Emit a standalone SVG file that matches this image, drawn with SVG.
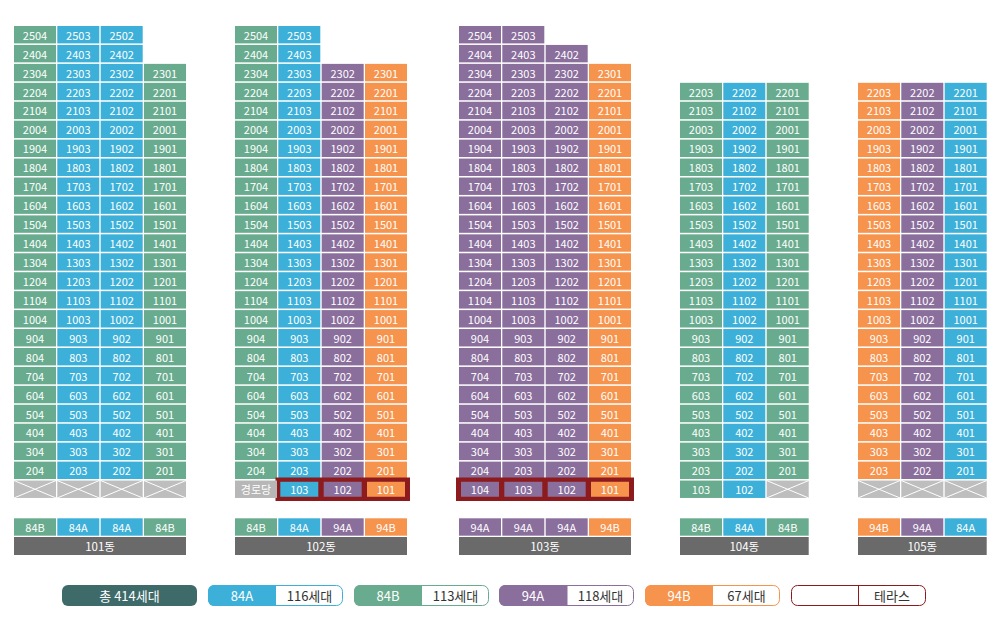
<svg xmlns="http://www.w3.org/2000/svg" width="1000" height="633" viewBox="0 0 1000 633">
<style>
.g,.b,.p,.o,.x,.s{y:-8.7px;width:42px;height:17.4px}
.g{fill:#69ab8e}.b{fill:#3cb0d8}.p{fill:#8a6e9c}.o{fill:#f6934c}.x{fill:#bebebe}.s{fill:#b7b7b7}
rect.in{y:-7.5px;width:38px;height:15px}
.xl{stroke:#fff;stroke-width:1;fill:none}
.frame{fill:#8d1a1c}
.bar{fill:#6a6a6a}
.bld text{fill:#fff;font-family:"Noto Sans CJK KR",sans-serif;font-size:11px;text-anchor:middle;dominant-baseline:central}
.bld text.bt{font-size:11.5px}
.lg text{font-family:"Noto Sans CJK KR",sans-serif;font-size:13px;text-anchor:middle;dominant-baseline:central;fill:#333}
.lg text.w{fill:#fff}
</style>
<g id="connectors"/>

<g id="b101" class="bld" transform="translate(14,0)">
<g transform="translate(0,34.7)"><rect class="g"/><text x="21">2504</text><rect class="b" x="43.3"/><text x="64.3">2503</text><rect class="b" x="86.7"/><text x="107.7">2502</text></g>
<g transform="translate(0,53.64)"><rect class="g"/><text x="21">2404</text><rect class="b" x="43.3"/><text x="64.3">2403</text><rect class="b" x="86.7"/><text x="107.7">2402</text></g>
<g transform="translate(0,72.58)"><rect class="g"/><text x="21">2304</text><rect class="b" x="43.3"/><text x="64.3">2303</text><rect class="b" x="86.7"/><text x="107.7">2302</text><rect class="g" x="130"/><text x="151">2301</text></g>
<g transform="translate(0,91.52)"><rect class="g"/><text x="21">2204</text><rect class="b" x="43.3"/><text x="64.3">2203</text><rect class="b" x="86.7"/><text x="107.7">2202</text><rect class="g" x="130"/><text x="151">2201</text></g>
<g transform="translate(0,110.46)"><rect class="g"/><text x="21">2104</text><rect class="b" x="43.3"/><text x="64.3">2103</text><rect class="b" x="86.7"/><text x="107.7">2102</text><rect class="g" x="130"/><text x="151">2101</text></g>
<g transform="translate(0,129.4)"><rect class="g"/><text x="21">2004</text><rect class="b" x="43.3"/><text x="64.3">2003</text><rect class="b" x="86.7"/><text x="107.7">2002</text><rect class="g" x="130"/><text x="151">2001</text></g>
<g transform="translate(0,148.34)"><rect class="g"/><text x="21">1904</text><rect class="b" x="43.3"/><text x="64.3">1903</text><rect class="b" x="86.7"/><text x="107.7">1902</text><rect class="g" x="130"/><text x="151">1901</text></g>
<g transform="translate(0,167.28)"><rect class="g"/><text x="21">1804</text><rect class="b" x="43.3"/><text x="64.3">1803</text><rect class="b" x="86.7"/><text x="107.7">1802</text><rect class="g" x="130"/><text x="151">1801</text></g>
<g transform="translate(0,186.22)"><rect class="g"/><text x="21">1704</text><rect class="b" x="43.3"/><text x="64.3">1703</text><rect class="b" x="86.7"/><text x="107.7">1702</text><rect class="g" x="130"/><text x="151">1701</text></g>
<g transform="translate(0,205.16)"><rect class="g"/><text x="21">1604</text><rect class="b" x="43.3"/><text x="64.3">1603</text><rect class="b" x="86.7"/><text x="107.7">1602</text><rect class="g" x="130"/><text x="151">1601</text></g>
<g transform="translate(0,224.1)"><rect class="g"/><text x="21">1504</text><rect class="b" x="43.3"/><text x="64.3">1503</text><rect class="b" x="86.7"/><text x="107.7">1502</text><rect class="g" x="130"/><text x="151">1501</text></g>
<g transform="translate(0,243.04)"><rect class="g"/><text x="21">1404</text><rect class="b" x="43.3"/><text x="64.3">1403</text><rect class="b" x="86.7"/><text x="107.7">1402</text><rect class="g" x="130"/><text x="151">1401</text></g>
<g transform="translate(0,261.98)"><rect class="g"/><text x="21">1304</text><rect class="b" x="43.3"/><text x="64.3">1303</text><rect class="b" x="86.7"/><text x="107.7">1302</text><rect class="g" x="130"/><text x="151">1301</text></g>
<g transform="translate(0,280.92)"><rect class="g"/><text x="21">1204</text><rect class="b" x="43.3"/><text x="64.3">1203</text><rect class="b" x="86.7"/><text x="107.7">1202</text><rect class="g" x="130"/><text x="151">1201</text></g>
<g transform="translate(0,299.86)"><rect class="g"/><text x="21">1104</text><rect class="b" x="43.3"/><text x="64.3">1103</text><rect class="b" x="86.7"/><text x="107.7">1102</text><rect class="g" x="130"/><text x="151">1101</text></g>
<g transform="translate(0,318.8)"><rect class="g"/><text x="21">1004</text><rect class="b" x="43.3"/><text x="64.3">1003</text><rect class="b" x="86.7"/><text x="107.7">1002</text><rect class="g" x="130"/><text x="151">1001</text></g>
<g transform="translate(0,337.74)"><rect class="g"/><text x="21">904</text><rect class="b" x="43.3"/><text x="64.3">903</text><rect class="b" x="86.7"/><text x="107.7">902</text><rect class="g" x="130"/><text x="151">901</text></g>
<g transform="translate(0,356.68)"><rect class="g"/><text x="21">804</text><rect class="b" x="43.3"/><text x="64.3">803</text><rect class="b" x="86.7"/><text x="107.7">802</text><rect class="g" x="130"/><text x="151">801</text></g>
<g transform="translate(0,375.62)"><rect class="g"/><text x="21">704</text><rect class="b" x="43.3"/><text x="64.3">703</text><rect class="b" x="86.7"/><text x="107.7">702</text><rect class="g" x="130"/><text x="151">701</text></g>
<g transform="translate(0,394.56)"><rect class="g"/><text x="21">604</text><rect class="b" x="43.3"/><text x="64.3">603</text><rect class="b" x="86.7"/><text x="107.7">602</text><rect class="g" x="130"/><text x="151">601</text></g>
<g transform="translate(0,413.5)"><rect class="g"/><text x="21">504</text><rect class="b" x="43.3"/><text x="64.3">503</text><rect class="b" x="86.7"/><text x="107.7">502</text><rect class="g" x="130"/><text x="151">501</text></g>
<g transform="translate(0,432.44)"><rect class="g"/><text x="21">404</text><rect class="b" x="43.3"/><text x="64.3">403</text><rect class="b" x="86.7"/><text x="107.7">402</text><rect class="g" x="130"/><text x="151">401</text></g>
<g transform="translate(0,451.38)"><rect class="g"/><text x="21">304</text><rect class="b" x="43.3"/><text x="64.3">303</text><rect class="b" x="86.7"/><text x="107.7">302</text><rect class="g" x="130"/><text x="151">301</text></g>
<g transform="translate(0,470.32)"><rect class="g"/><text x="21">204</text><rect class="b" x="43.3"/><text x="64.3">203</text><rect class="b" x="86.7"/><text x="107.7">202</text><rect class="g" x="130"/><text x="151">201</text></g>
<g transform="translate(0,489.26)"><rect class="x"/><path class="xl" d="M0,-8.7L42,8.7M0,8.7L42,-8.7"/><rect class="x" x="43.3"/><path class="xl" d="M43.3,-8.7L85.3,8.7M43.3,8.7L85.3,-8.7"/><rect class="x" x="86.7"/><path class="xl" d="M86.7,-8.7L128.7,8.7M86.7,8.7L128.7,-8.7"/><rect class="x" x="130"/><path class="xl" d="M130,-8.7L172,8.7M130,8.7L172,-8.7"/></g>
<g transform="translate(0,527)"><rect class="g"/><text x="21">84B</text><rect class="b" x="43.3"/><text x="64.3">84A</text><rect class="b" x="86.7"/><text x="107.7">84A</text><rect class="g" x="130"/><text x="151">84B</text></g>
<rect class="bar" x="0" y="537" width="172" height="18"/><text class="bt" x="86" y="546">101동</text>
</g>

<g id="b102" class="bld" transform="translate(235,0)">
<g transform="translate(0,34.7)"><rect class="g"/><text x="21">2504</text><rect class="b" x="43.3"/><text x="64.3">2503</text></g>
<g transform="translate(0,53.64)"><rect class="g"/><text x="21">2404</text><rect class="b" x="43.3"/><text x="64.3">2403</text></g>
<g transform="translate(0,72.58)"><rect class="g"/><text x="21">2304</text><rect class="b" x="43.3"/><text x="64.3">2303</text><rect class="p" x="86.7"/><text x="107.7">2302</text><rect class="o" x="130"/><text x="151">2301</text></g>
<g transform="translate(0,91.52)"><rect class="g"/><text x="21">2204</text><rect class="b" x="43.3"/><text x="64.3">2203</text><rect class="p" x="86.7"/><text x="107.7">2202</text><rect class="o" x="130"/><text x="151">2201</text></g>
<g transform="translate(0,110.46)"><rect class="g"/><text x="21">2104</text><rect class="b" x="43.3"/><text x="64.3">2103</text><rect class="p" x="86.7"/><text x="107.7">2102</text><rect class="o" x="130"/><text x="151">2101</text></g>
<g transform="translate(0,129.4)"><rect class="g"/><text x="21">2004</text><rect class="b" x="43.3"/><text x="64.3">2003</text><rect class="p" x="86.7"/><text x="107.7">2002</text><rect class="o" x="130"/><text x="151">2001</text></g>
<g transform="translate(0,148.34)"><rect class="g"/><text x="21">1904</text><rect class="b" x="43.3"/><text x="64.3">1903</text><rect class="p" x="86.7"/><text x="107.7">1902</text><rect class="o" x="130"/><text x="151">1901</text></g>
<g transform="translate(0,167.28)"><rect class="g"/><text x="21">1804</text><rect class="b" x="43.3"/><text x="64.3">1803</text><rect class="p" x="86.7"/><text x="107.7">1802</text><rect class="o" x="130"/><text x="151">1801</text></g>
<g transform="translate(0,186.22)"><rect class="g"/><text x="21">1704</text><rect class="b" x="43.3"/><text x="64.3">1703</text><rect class="p" x="86.7"/><text x="107.7">1702</text><rect class="o" x="130"/><text x="151">1701</text></g>
<g transform="translate(0,205.16)"><rect class="g"/><text x="21">1604</text><rect class="b" x="43.3"/><text x="64.3">1603</text><rect class="p" x="86.7"/><text x="107.7">1602</text><rect class="o" x="130"/><text x="151">1601</text></g>
<g transform="translate(0,224.1)"><rect class="g"/><text x="21">1504</text><rect class="b" x="43.3"/><text x="64.3">1503</text><rect class="p" x="86.7"/><text x="107.7">1502</text><rect class="o" x="130"/><text x="151">1501</text></g>
<g transform="translate(0,243.04)"><rect class="g"/><text x="21">1404</text><rect class="b" x="43.3"/><text x="64.3">1403</text><rect class="p" x="86.7"/><text x="107.7">1402</text><rect class="o" x="130"/><text x="151">1401</text></g>
<g transform="translate(0,261.98)"><rect class="g"/><text x="21">1304</text><rect class="b" x="43.3"/><text x="64.3">1303</text><rect class="p" x="86.7"/><text x="107.7">1302</text><rect class="o" x="130"/><text x="151">1301</text></g>
<g transform="translate(0,280.92)"><rect class="g"/><text x="21">1204</text><rect class="b" x="43.3"/><text x="64.3">1203</text><rect class="p" x="86.7"/><text x="107.7">1202</text><rect class="o" x="130"/><text x="151">1201</text></g>
<g transform="translate(0,299.86)"><rect class="g"/><text x="21">1104</text><rect class="b" x="43.3"/><text x="64.3">1103</text><rect class="p" x="86.7"/><text x="107.7">1102</text><rect class="o" x="130"/><text x="151">1101</text></g>
<g transform="translate(0,318.8)"><rect class="g"/><text x="21">1004</text><rect class="b" x="43.3"/><text x="64.3">1003</text><rect class="p" x="86.7"/><text x="107.7">1002</text><rect class="o" x="130"/><text x="151">1001</text></g>
<g transform="translate(0,337.74)"><rect class="g"/><text x="21">904</text><rect class="b" x="43.3"/><text x="64.3">903</text><rect class="p" x="86.7"/><text x="107.7">902</text><rect class="o" x="130"/><text x="151">901</text></g>
<g transform="translate(0,356.68)"><rect class="g"/><text x="21">804</text><rect class="b" x="43.3"/><text x="64.3">803</text><rect class="p" x="86.7"/><text x="107.7">802</text><rect class="o" x="130"/><text x="151">801</text></g>
<g transform="translate(0,375.62)"><rect class="g"/><text x="21">704</text><rect class="b" x="43.3"/><text x="64.3">703</text><rect class="p" x="86.7"/><text x="107.7">702</text><rect class="o" x="130"/><text x="151">701</text></g>
<g transform="translate(0,394.56)"><rect class="g"/><text x="21">604</text><rect class="b" x="43.3"/><text x="64.3">603</text><rect class="p" x="86.7"/><text x="107.7">602</text><rect class="o" x="130"/><text x="151">601</text></g>
<g transform="translate(0,413.5)"><rect class="g"/><text x="21">504</text><rect class="b" x="43.3"/><text x="64.3">503</text><rect class="p" x="86.7"/><text x="107.7">502</text><rect class="o" x="130"/><text x="151">501</text></g>
<g transform="translate(0,432.44)"><rect class="g"/><text x="21">404</text><rect class="b" x="43.3"/><text x="64.3">403</text><rect class="p" x="86.7"/><text x="107.7">402</text><rect class="o" x="130"/><text x="151">401</text></g>
<g transform="translate(0,451.38)"><rect class="g"/><text x="21">304</text><rect class="b" x="43.3"/><text x="64.3">303</text><rect class="p" x="86.7"/><text x="107.7">302</text><rect class="o" x="130"/><text x="151">301</text></g>
<g transform="translate(0,470.32)"><rect class="g"/><text x="21">204</text><rect class="b" x="43.3"/><text x="64.3">203</text><rect class="p" x="86.7"/><text x="107.7">202</text><rect class="o" x="130"/><text x="151">201</text></g>
<rect class="frame" x="40.5" y="477.5" width="134.5" height="23.5"/>
<g transform="translate(0,489.26)"><rect class="s"/><text x="21">경로당</text><rect class="b in" x="45.3"/><text x="64.3">103</text><rect class="p in" x="88.7"/><text x="107.7">102</text><rect class="o in" x="132"/><text x="151">101</text></g>
<g transform="translate(0,527)"><rect class="g"/><text x="21">84B</text><rect class="b" x="43.3"/><text x="64.3">84A</text><rect class="p" x="86.7"/><text x="107.7">94A</text><rect class="o" x="130"/><text x="151">94B</text></g>
<rect class="bar" x="0" y="537" width="172" height="18"/><text class="bt" x="86" y="546">102동</text>
</g>

<g id="b103" class="bld" transform="translate(459,0)">
<g transform="translate(0,34.7)"><rect class="p"/><text x="21">2504</text><rect class="p" x="43.3"/><text x="64.3">2503</text></g>
<g transform="translate(0,53.64)"><rect class="p"/><text x="21">2404</text><rect class="p" x="43.3"/><text x="64.3">2403</text><rect class="p" x="86.7"/><text x="107.7">2402</text></g>
<g transform="translate(0,72.58)"><rect class="p"/><text x="21">2304</text><rect class="p" x="43.3"/><text x="64.3">2303</text><rect class="p" x="86.7"/><text x="107.7">2302</text><rect class="o" x="130"/><text x="151">2301</text></g>
<g transform="translate(0,91.52)"><rect class="p"/><text x="21">2204</text><rect class="p" x="43.3"/><text x="64.3">2203</text><rect class="p" x="86.7"/><text x="107.7">2202</text><rect class="o" x="130"/><text x="151">2201</text></g>
<g transform="translate(0,110.46)"><rect class="p"/><text x="21">2104</text><rect class="p" x="43.3"/><text x="64.3">2103</text><rect class="p" x="86.7"/><text x="107.7">2102</text><rect class="o" x="130"/><text x="151">2101</text></g>
<g transform="translate(0,129.4)"><rect class="p"/><text x="21">2004</text><rect class="p" x="43.3"/><text x="64.3">2003</text><rect class="p" x="86.7"/><text x="107.7">2002</text><rect class="o" x="130"/><text x="151">2001</text></g>
<g transform="translate(0,148.34)"><rect class="p"/><text x="21">1904</text><rect class="p" x="43.3"/><text x="64.3">1903</text><rect class="p" x="86.7"/><text x="107.7">1902</text><rect class="o" x="130"/><text x="151">1901</text></g>
<g transform="translate(0,167.28)"><rect class="p"/><text x="21">1804</text><rect class="p" x="43.3"/><text x="64.3">1803</text><rect class="p" x="86.7"/><text x="107.7">1802</text><rect class="o" x="130"/><text x="151">1801</text></g>
<g transform="translate(0,186.22)"><rect class="p"/><text x="21">1704</text><rect class="p" x="43.3"/><text x="64.3">1703</text><rect class="p" x="86.7"/><text x="107.7">1702</text><rect class="o" x="130"/><text x="151">1701</text></g>
<g transform="translate(0,205.16)"><rect class="p"/><text x="21">1604</text><rect class="p" x="43.3"/><text x="64.3">1603</text><rect class="p" x="86.7"/><text x="107.7">1602</text><rect class="o" x="130"/><text x="151">1601</text></g>
<g transform="translate(0,224.1)"><rect class="p"/><text x="21">1504</text><rect class="p" x="43.3"/><text x="64.3">1503</text><rect class="p" x="86.7"/><text x="107.7">1502</text><rect class="o" x="130"/><text x="151">1501</text></g>
<g transform="translate(0,243.04)"><rect class="p"/><text x="21">1404</text><rect class="p" x="43.3"/><text x="64.3">1403</text><rect class="p" x="86.7"/><text x="107.7">1402</text><rect class="o" x="130"/><text x="151">1401</text></g>
<g transform="translate(0,261.98)"><rect class="p"/><text x="21">1304</text><rect class="p" x="43.3"/><text x="64.3">1303</text><rect class="p" x="86.7"/><text x="107.7">1302</text><rect class="o" x="130"/><text x="151">1301</text></g>
<g transform="translate(0,280.92)"><rect class="p"/><text x="21">1204</text><rect class="p" x="43.3"/><text x="64.3">1203</text><rect class="p" x="86.7"/><text x="107.7">1202</text><rect class="o" x="130"/><text x="151">1201</text></g>
<g transform="translate(0,299.86)"><rect class="p"/><text x="21">1104</text><rect class="p" x="43.3"/><text x="64.3">1103</text><rect class="p" x="86.7"/><text x="107.7">1102</text><rect class="o" x="130"/><text x="151">1101</text></g>
<g transform="translate(0,318.8)"><rect class="p"/><text x="21">1004</text><rect class="p" x="43.3"/><text x="64.3">1003</text><rect class="p" x="86.7"/><text x="107.7">1002</text><rect class="o" x="130"/><text x="151">1001</text></g>
<g transform="translate(0,337.74)"><rect class="p"/><text x="21">904</text><rect class="p" x="43.3"/><text x="64.3">903</text><rect class="p" x="86.7"/><text x="107.7">902</text><rect class="o" x="130"/><text x="151">901</text></g>
<g transform="translate(0,356.68)"><rect class="p"/><text x="21">804</text><rect class="p" x="43.3"/><text x="64.3">803</text><rect class="p" x="86.7"/><text x="107.7">802</text><rect class="o" x="130"/><text x="151">801</text></g>
<g transform="translate(0,375.62)"><rect class="p"/><text x="21">704</text><rect class="p" x="43.3"/><text x="64.3">703</text><rect class="p" x="86.7"/><text x="107.7">702</text><rect class="o" x="130"/><text x="151">701</text></g>
<g transform="translate(0,394.56)"><rect class="p"/><text x="21">604</text><rect class="p" x="43.3"/><text x="64.3">603</text><rect class="p" x="86.7"/><text x="107.7">602</text><rect class="o" x="130"/><text x="151">601</text></g>
<g transform="translate(0,413.5)"><rect class="p"/><text x="21">504</text><rect class="p" x="43.3"/><text x="64.3">503</text><rect class="p" x="86.7"/><text x="107.7">502</text><rect class="o" x="130"/><text x="151">501</text></g>
<g transform="translate(0,432.44)"><rect class="p"/><text x="21">404</text><rect class="p" x="43.3"/><text x="64.3">403</text><rect class="p" x="86.7"/><text x="107.7">402</text><rect class="o" x="130"/><text x="151">401</text></g>
<g transform="translate(0,451.38)"><rect class="p"/><text x="21">304</text><rect class="p" x="43.3"/><text x="64.3">303</text><rect class="p" x="86.7"/><text x="107.7">302</text><rect class="o" x="130"/><text x="151">301</text></g>
<g transform="translate(0,470.32)"><rect class="p"/><text x="21">204</text><rect class="p" x="43.3"/><text x="64.3">203</text><rect class="p" x="86.7"/><text x="107.7">202</text><rect class="o" x="130"/><text x="151">201</text></g>
<rect class="frame" x="-3" y="477.5" width="178" height="23.5"/>
<g transform="translate(0,489.26)"><rect class="p in" x="2"/><text x="21">104</text><rect class="p in" x="45.3"/><text x="64.3">103</text><rect class="p in" x="88.7"/><text x="107.7">102</text><rect class="o in" x="132"/><text x="151">101</text></g>
<g transform="translate(0,527)"><rect class="p"/><text x="21">94A</text><rect class="p" x="43.3"/><text x="64.3">94A</text><rect class="p" x="86.7"/><text x="107.7">94A</text><rect class="o" x="130"/><text x="151">94B</text></g>
<rect class="bar" x="0" y="537" width="172" height="18"/><text class="bt" x="86" y="546">103동</text>
</g>

<g id="b104" class="bld" transform="translate(680,0)">
<g transform="translate(0,91.52)"><rect class="g"/><text x="21">2203</text><rect class="b" x="43.3"/><text x="64.3">2202</text><rect class="g" x="86.7"/><text x="107.7">2201</text></g>
<g transform="translate(0,110.46)"><rect class="g"/><text x="21">2103</text><rect class="b" x="43.3"/><text x="64.3">2102</text><rect class="g" x="86.7"/><text x="107.7">2101</text></g>
<g transform="translate(0,129.4)"><rect class="g"/><text x="21">2003</text><rect class="b" x="43.3"/><text x="64.3">2002</text><rect class="g" x="86.7"/><text x="107.7">2001</text></g>
<g transform="translate(0,148.34)"><rect class="g"/><text x="21">1903</text><rect class="b" x="43.3"/><text x="64.3">1902</text><rect class="g" x="86.7"/><text x="107.7">1901</text></g>
<g transform="translate(0,167.28)"><rect class="g"/><text x="21">1803</text><rect class="b" x="43.3"/><text x="64.3">1802</text><rect class="g" x="86.7"/><text x="107.7">1801</text></g>
<g transform="translate(0,186.22)"><rect class="g"/><text x="21">1703</text><rect class="b" x="43.3"/><text x="64.3">1702</text><rect class="g" x="86.7"/><text x="107.7">1701</text></g>
<g transform="translate(0,205.16)"><rect class="g"/><text x="21">1603</text><rect class="b" x="43.3"/><text x="64.3">1602</text><rect class="g" x="86.7"/><text x="107.7">1601</text></g>
<g transform="translate(0,224.1)"><rect class="g"/><text x="21">1503</text><rect class="b" x="43.3"/><text x="64.3">1502</text><rect class="g" x="86.7"/><text x="107.7">1501</text></g>
<g transform="translate(0,243.04)"><rect class="g"/><text x="21">1403</text><rect class="b" x="43.3"/><text x="64.3">1402</text><rect class="g" x="86.7"/><text x="107.7">1401</text></g>
<g transform="translate(0,261.98)"><rect class="g"/><text x="21">1303</text><rect class="b" x="43.3"/><text x="64.3">1302</text><rect class="g" x="86.7"/><text x="107.7">1301</text></g>
<g transform="translate(0,280.92)"><rect class="g"/><text x="21">1203</text><rect class="b" x="43.3"/><text x="64.3">1202</text><rect class="g" x="86.7"/><text x="107.7">1201</text></g>
<g transform="translate(0,299.86)"><rect class="g"/><text x="21">1103</text><rect class="b" x="43.3"/><text x="64.3">1102</text><rect class="g" x="86.7"/><text x="107.7">1101</text></g>
<g transform="translate(0,318.8)"><rect class="g"/><text x="21">1003</text><rect class="b" x="43.3"/><text x="64.3">1002</text><rect class="g" x="86.7"/><text x="107.7">1001</text></g>
<g transform="translate(0,337.74)"><rect class="g"/><text x="21">903</text><rect class="b" x="43.3"/><text x="64.3">902</text><rect class="g" x="86.7"/><text x="107.7">901</text></g>
<g transform="translate(0,356.68)"><rect class="g"/><text x="21">803</text><rect class="b" x="43.3"/><text x="64.3">802</text><rect class="g" x="86.7"/><text x="107.7">801</text></g>
<g transform="translate(0,375.62)"><rect class="g"/><text x="21">703</text><rect class="b" x="43.3"/><text x="64.3">702</text><rect class="g" x="86.7"/><text x="107.7">701</text></g>
<g transform="translate(0,394.56)"><rect class="g"/><text x="21">603</text><rect class="b" x="43.3"/><text x="64.3">602</text><rect class="g" x="86.7"/><text x="107.7">601</text></g>
<g transform="translate(0,413.5)"><rect class="g"/><text x="21">503</text><rect class="b" x="43.3"/><text x="64.3">502</text><rect class="g" x="86.7"/><text x="107.7">501</text></g>
<g transform="translate(0,432.44)"><rect class="g"/><text x="21">403</text><rect class="b" x="43.3"/><text x="64.3">402</text><rect class="g" x="86.7"/><text x="107.7">401</text></g>
<g transform="translate(0,451.38)"><rect class="g"/><text x="21">303</text><rect class="b" x="43.3"/><text x="64.3">302</text><rect class="g" x="86.7"/><text x="107.7">301</text></g>
<g transform="translate(0,470.32)"><rect class="g"/><text x="21">203</text><rect class="b" x="43.3"/><text x="64.3">202</text><rect class="g" x="86.7"/><text x="107.7">201</text></g>
<g transform="translate(0,489.26)"><rect class="g"/><text x="21">103</text><rect class="b" x="43.3"/><text x="64.3">102</text><rect class="x" x="86.7"/><path class="xl" d="M86.7,-8.7L128.7,8.7M86.7,8.7L128.7,-8.7"/></g>
<g transform="translate(0,527)"><rect class="g"/><text x="21">84B</text><rect class="b" x="43.3"/><text x="64.3">84A</text><rect class="g" x="86.7"/><text x="107.7">84B</text></g>
<rect class="bar" x="0" y="537" width="128.7" height="18"/><text class="bt" x="64.3" y="546">104동</text>
</g>

<g id="b105" class="bld" transform="translate(858,0)">
<g transform="translate(0,91.52)"><rect class="o"/><text x="21">2203</text><rect class="p" x="43.3"/><text x="64.3">2202</text><rect class="b" x="86.7"/><text x="107.7">2201</text></g>
<g transform="translate(0,110.46)"><rect class="o"/><text x="21">2103</text><rect class="p" x="43.3"/><text x="64.3">2102</text><rect class="b" x="86.7"/><text x="107.7">2101</text></g>
<g transform="translate(0,129.4)"><rect class="o"/><text x="21">2003</text><rect class="p" x="43.3"/><text x="64.3">2002</text><rect class="b" x="86.7"/><text x="107.7">2001</text></g>
<g transform="translate(0,148.34)"><rect class="o"/><text x="21">1903</text><rect class="p" x="43.3"/><text x="64.3">1902</text><rect class="b" x="86.7"/><text x="107.7">1901</text></g>
<g transform="translate(0,167.28)"><rect class="o"/><text x="21">1803</text><rect class="p" x="43.3"/><text x="64.3">1802</text><rect class="b" x="86.7"/><text x="107.7">1801</text></g>
<g transform="translate(0,186.22)"><rect class="o"/><text x="21">1703</text><rect class="p" x="43.3"/><text x="64.3">1702</text><rect class="b" x="86.7"/><text x="107.7">1701</text></g>
<g transform="translate(0,205.16)"><rect class="o"/><text x="21">1603</text><rect class="p" x="43.3"/><text x="64.3">1602</text><rect class="b" x="86.7"/><text x="107.7">1601</text></g>
<g transform="translate(0,224.1)"><rect class="o"/><text x="21">1503</text><rect class="p" x="43.3"/><text x="64.3">1502</text><rect class="b" x="86.7"/><text x="107.7">1501</text></g>
<g transform="translate(0,243.04)"><rect class="o"/><text x="21">1403</text><rect class="p" x="43.3"/><text x="64.3">1402</text><rect class="b" x="86.7"/><text x="107.7">1401</text></g>
<g transform="translate(0,261.98)"><rect class="o"/><text x="21">1303</text><rect class="p" x="43.3"/><text x="64.3">1302</text><rect class="b" x="86.7"/><text x="107.7">1301</text></g>
<g transform="translate(0,280.92)"><rect class="o"/><text x="21">1203</text><rect class="p" x="43.3"/><text x="64.3">1202</text><rect class="b" x="86.7"/><text x="107.7">1201</text></g>
<g transform="translate(0,299.86)"><rect class="o"/><text x="21">1103</text><rect class="p" x="43.3"/><text x="64.3">1102</text><rect class="b" x="86.7"/><text x="107.7">1101</text></g>
<g transform="translate(0,318.8)"><rect class="o"/><text x="21">1003</text><rect class="p" x="43.3"/><text x="64.3">1002</text><rect class="b" x="86.7"/><text x="107.7">1001</text></g>
<g transform="translate(0,337.74)"><rect class="o"/><text x="21">903</text><rect class="p" x="43.3"/><text x="64.3">902</text><rect class="b" x="86.7"/><text x="107.7">901</text></g>
<g transform="translate(0,356.68)"><rect class="o"/><text x="21">803</text><rect class="p" x="43.3"/><text x="64.3">802</text><rect class="b" x="86.7"/><text x="107.7">801</text></g>
<g transform="translate(0,375.62)"><rect class="o"/><text x="21">703</text><rect class="p" x="43.3"/><text x="64.3">702</text><rect class="b" x="86.7"/><text x="107.7">701</text></g>
<g transform="translate(0,394.56)"><rect class="o"/><text x="21">603</text><rect class="p" x="43.3"/><text x="64.3">602</text><rect class="b" x="86.7"/><text x="107.7">601</text></g>
<g transform="translate(0,413.5)"><rect class="o"/><text x="21">503</text><rect class="p" x="43.3"/><text x="64.3">502</text><rect class="b" x="86.7"/><text x="107.7">501</text></g>
<g transform="translate(0,432.44)"><rect class="o"/><text x="21">403</text><rect class="p" x="43.3"/><text x="64.3">402</text><rect class="b" x="86.7"/><text x="107.7">401</text></g>
<g transform="translate(0,451.38)"><rect class="o"/><text x="21">303</text><rect class="p" x="43.3"/><text x="64.3">302</text><rect class="b" x="86.7"/><text x="107.7">301</text></g>
<g transform="translate(0,470.32)"><rect class="o"/><text x="21">203</text><rect class="p" x="43.3"/><text x="64.3">202</text><rect class="b" x="86.7"/><text x="107.7">201</text></g>
<g transform="translate(0,489.26)"><rect class="x"/><path class="xl" d="M0,-8.7L42,8.7M0,8.7L42,-8.7"/><rect class="x" x="43.3"/><path class="xl" d="M43.3,-8.7L85.3,8.7M43.3,8.7L85.3,-8.7"/><rect class="x" x="86.7"/><path class="xl" d="M86.7,-8.7L128.7,8.7M86.7,8.7L128.7,-8.7"/></g>
<g transform="translate(0,527)"><rect class="o"/><text x="21">94B</text><rect class="p" x="43.3"/><text x="64.3">94A</text><rect class="b" x="86.7"/><text x="107.7">84A</text></g>
<rect class="bar" x="0" y="537" width="128.7" height="18"/><text class="bt" x="64.3" y="546">105동</text>
</g>

<g id="legend" class="lg">
<g id="lg-total"><rect x="62" y="585" width="135" height="21" rx="6" fill="#3e6a69"/><text class="w" x="129.5" y="595.5">총 414세대</text></g>
<g id="lg-84a"><rect x="208.5" y="585.5" width="134" height="20" rx="6" fill="#fff" stroke="#3cb0d8"/><path d="M214,585H276V606H214A6,6 0 0 1 208,600V591A6,6 0 0 1 214,585Z" fill="#3cb0d8"/><text class="w" x="242" y="595.5">84A</text><text x="309.5" y="595.5">116세대</text></g>
<g id="lg-84b"><rect x="354.5" y="585.5" width="134" height="20" rx="6" fill="#fff" stroke="#69ab8e"/><path d="M360,585H422V606H360A6,6 0 0 1 354,600V591A6,6 0 0 1 360,585Z" fill="#69ab8e"/><text class="w" x="388" y="595.5">84B</text><text x="455.5" y="595.5">113세대</text></g>
<g id="lg-94a"><rect x="499.5" y="585.5" width="134" height="20" rx="6" fill="#fff" stroke="#8a6e9c"/><path d="M505,585H567.5V606H505A6,6 0 0 1 499,600V591A6,6 0 0 1 505,585Z" fill="#8a6e9c"/><text class="w" x="533" y="595.5">94A</text><text x="600.5" y="595.5">118세대</text></g>
<g id="lg-94b"><rect x="645.5" y="585.5" width="134" height="20" rx="6" fill="#fff" stroke="#f6934c"/><path d="M651,585H713V606H651A6,6 0 0 1 645,600V591A6,6 0 0 1 651,585Z" fill="#f6934c"/><text class="w" x="679" y="595.5">94B</text><text x="746.5" y="595.5">67세대</text></g>
<g id="lg-terrace"><rect x="791.5" y="585.5" width="134" height="20" rx="6" fill="#fff" stroke="#8d1a1c"/><line x1="858.5" y1="585.5" x2="858.5" y2="605.5" stroke="#8d1a1c"/><text x="892" y="595.5">테라스</text></g>
</g>
</svg>
